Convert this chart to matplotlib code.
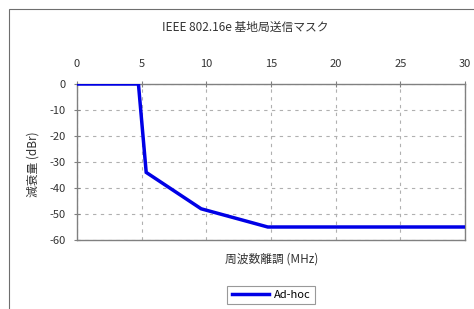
import matplotlib
matplotlib.use("Agg")
import matplotlib.pyplot as plt
from matplotlib.patches import Rectangle

plt.rcParams['font.family'] = ['Noto Sans CJK JP', 'DejaVu Sans']

freq_offset = [0, 4.75, 5.35, 9.6, 14.75, 30]
attenuation = [0, 0, -34, -48, -55, -55]
series_name = "Ad-hoc"
x_ticks = [0, 5, 10, 15, 20, 25, 30]
y_ticks = [0, -10, -20, -30, -40, -50, -60]

W, H = 474, 309
fig = plt.figure(figsize=(W/100, H/100), dpi=100)
fig.patches.append(Rectangle((9/W, -0.1), 1.2, (H-9)/H + 0.1, transform=fig.transFigure,
                             fill=False, edgecolor='#6e6e6e', linewidth=0.8))

ax = fig.add_axes([77/W, 1-240/H, (465-77)/W, (240-84)/H])
ax.plot(freq_offset, attenuation, color='#0000e6', linewidth=2.5, label=series_name,
        solid_joinstyle='miter', zorder=3)
ax.set_xlim(0, 30)
ax.set_ylim(-60, 0)
ax.set_xticks(x_ticks)
ax.set_yticks(y_ticks)
ax.set_yticklabels([str(v) for v in y_ticks])
ax.xaxis.tick_top()
ax.tick_params(axis='x', direction='inout', length=4, color='#808080', labelsize=8,
               pad=9, labelcolor='#333333')
ax.tick_params(axis='y', direction='inout', length=4, color='#808080', labelsize=8,
               pad=6, labelcolor='#333333')
ax.grid(True, color='#b0b0b0', linestyle=(0, (3, 4)), linewidth=0.8)
for s in ax.spines.values():
    s.set_color('#808080')
    s.set_linewidth(1.0)

fig.text(245/W, 1-27/H, "IEEE 802.16e 基地局送信マスク", ha='center', va='center',
         fontsize=8.5, color='#333333')
fig.text(272/W, 1-259/H, "周波数離調 (MHz)", ha='center', va='center',
         fontsize=8.5, color='#333333')
fig.text(33/W, 1-164/H, "減衰量 (dBr)", ha='center', va='center', rotation=90,
         fontsize=8.5, color='#333333')

leg = fig.legend(loc='center', bbox_to_anchor=(271/W, 1-295/H), fontsize=8,
                 frameon=True, fancybox=False, edgecolor='#808080',
                 handlelength=3.4, borderpad=0.4, handletextpad=0.4)
leg.get_frame().set_linewidth(0.8)

fig.savefig("out.png", dpi=100)
